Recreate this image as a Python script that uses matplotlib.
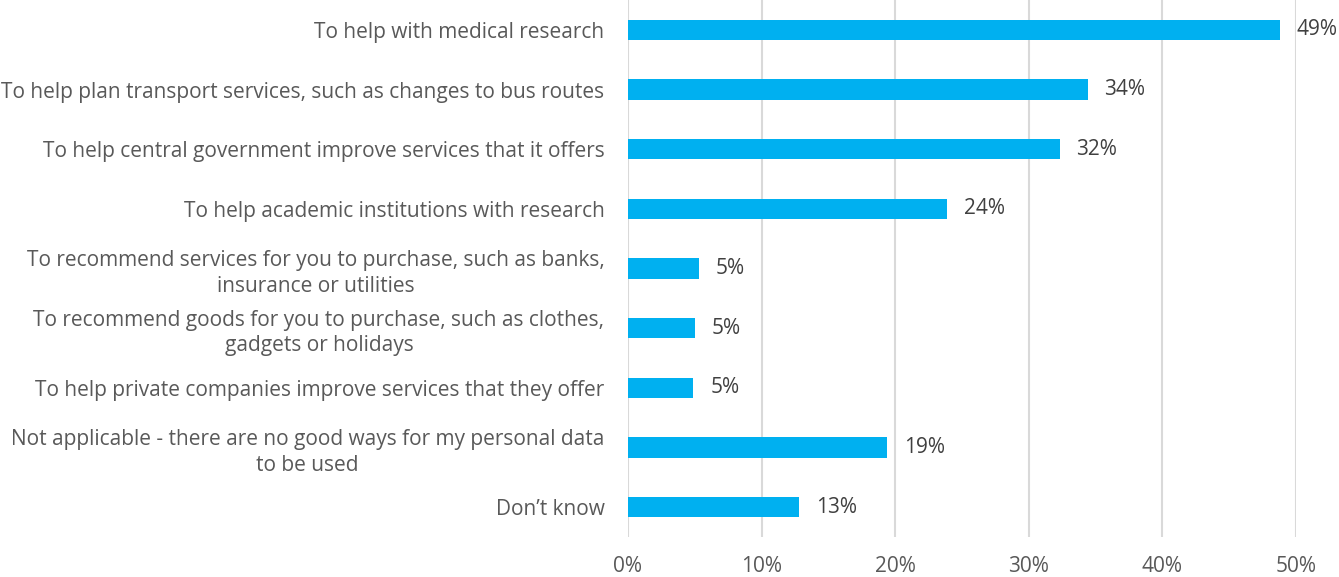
import numpy as np
import matplotlib.pyplot as plt

# === データ ===
categories = [
    "To help with medical research",
    "To help plan transport services, such as changes to bus routes",
    "To help central government improve services that it offers",
    "To help academic institutions with research",
    "To recommend services for you to purchase, such as banks,\ninsurance or utilities",
    "To recommend goods for you to purchase, such as clothes,\ngadgets or holidays",
    "To help private companies improve services that they offer",
    "Not applicable - there are no good ways for my personal data\nto be used",
    "Don\u2019t know",
]
values = [48.8, 34.4, 32.3, 23.9, 5.3, 5.0, 4.9, 19.4, 12.8]
value_labels = ["49%", "34%", "32%", "24%", "5%", "5%", "5%", "19%", "13%"]
xticks = [0, 10, 20, 30, 40, 50]
xtick_labels = ["0%", "10%", "20%", "30%", "40%", "50%"]

BAR_COLOR = "#00B0F0"
TEXT_COLOR = "#595959"
GRID_COLOR = "#D9D9D9"

plt.rcParams['font.family'] = ['Open Sans', 'DejaVu Sans']

fig = plt.figure(figsize=(13.39, 5.77), dpi=100)
ax = fig.add_axes([628 / 1339, 1 - 537 / 577, (1296 - 628) / 1339, 537 / 577])

y = np.arange(len(categories))
ax.barh(y, values, height=0.34, color=BAR_COLOR, zorder=3)

for yi, v, lab in zip(y, values, value_labels):
    ax.annotate(lab, (v, yi), xytext=(12, 0), textcoords='offset points',
                va='center', ha='left', fontsize=15, color="#404040")

ax.set_xlim(0, 50)
ax.set_ylim(len(categories) - 0.5, -0.5)
ax.set_yticks(y)
ax.set_yticklabels(categories, fontsize=15, color=TEXT_COLOR, multialignment='center',
                   linespacing=1.3)
ax.set_xticks(xticks)
ax.set_xticklabels(xtick_labels, fontsize=15, color=TEXT_COLOR)
ax.tick_params(axis='y', length=0, pad=17)
ax.tick_params(axis='x', length=0, pad=14)

ax.grid(axis='x', color=GRID_COLOR, linewidth=1.5, zorder=0)
for s in ax.spines.values():
    s.set_visible(False)

fig.savefig("out.png", dpi=100)
